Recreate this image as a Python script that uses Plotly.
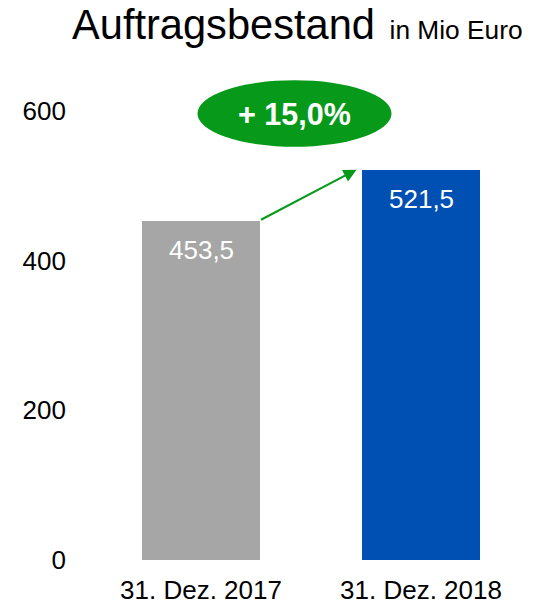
import plotly.graph_objects as go

categories = ["31. Dez. 2017", "31. Dez. 2018"]
values = [453.5, 521.5]
value_labels = ["453,5", "521,5"]
bar_colors = ["#A6A6A6", "#0050B4"]
ytick_vals = [0, 200, 400, 600]
growth_label = "+ 15,0%"

FONT = "Liberation Sans, Arial, sans-serif"
GREEN = "#079A1A"
BAR_W = 0.532

fig = go.Figure()
fig.add_trace(go.Bar(
    x=[0, 1], y=values, width=BAR_W,
    marker=dict(color=bar_colors, line=dict(width=0)),
    hoverinfo="skip", showlegend=False,
))

# value labels inside the bars
for i, (v, t) in enumerate(zip(values, value_labels)):
    fig.add_annotation(x=i, y=v, text=t, showarrow=False, yshift=-29.5,
                       yanchor="middle", font=dict(family=FONT, size=26, color="white"))

# green arrow from the 2017 bar to the 2018 bar
fig.add_annotation(x=1 - BAR_W / 2 - 0.027, y=values[1], ax=0 + BAR_W / 2, ay=values[0],
                   xref="x", yref="y", axref="x", ayref="y", text="",
                   showarrow=True, arrowhead=2, arrowsize=1.3, arrowwidth=2, arrowcolor=GREEN,
                   standoff=0, startstandoff=0)

# growth ellipse
fig.add_shape(type="circle", xref="x", yref="y", x0=-0.016, x1=0.866, y0=552, y1=641,
              fillcolor=GREEN, line=dict(width=0), layer="above")
fig.add_annotation(x=0.425, y=596.5, text="<b>" + growth_label + "</b>", showarrow=False,
                   font=dict(family=FONT, size=30.5, color="white"))

W, H = 535, 609
fig.update_layout(
    width=W, height=H,
    margin=dict(l=91, r=4, t=51, b=45, pad=0),
    paper_bgcolor="white", plot_bgcolor="white",
    font=dict(family=FONT, size=26, color="black"),
    title=dict(text="Auftragsbestand<span style='font-size:26.3px'>\u00a0\u00a0in Mio Euro</span>",
               font=dict(family=FONT, size=41.6, color="black"),
               xref="container", yref="container", x=72 / W, xanchor="left",
               y=1 - 10 / H, yanchor="top"),
    xaxis=dict(range=[-0.5, 1.5], tickvals=[0, 1], ticktext=categories, showgrid=False,
               zeroline=False, showline=False, ticks="", ticklabelstandoff=12,
               tickfont=dict(family=FONT, size=26, color="black")),
    yaxis=dict(range=[0, 680], tickvals=ytick_vals, showgrid=False, zeroline=False,
               showline=False, ticks="", ticklabelstandoff=24,
               tickfont=dict(family=FONT, size=26, color="black")),
    bargap=0,
    hovermode=False,
)

fig.write_html("out.html", config={"displayModeBar": False},
               post_script="document.body.style.margin='0';document.body.style.overflow='hidden';")
